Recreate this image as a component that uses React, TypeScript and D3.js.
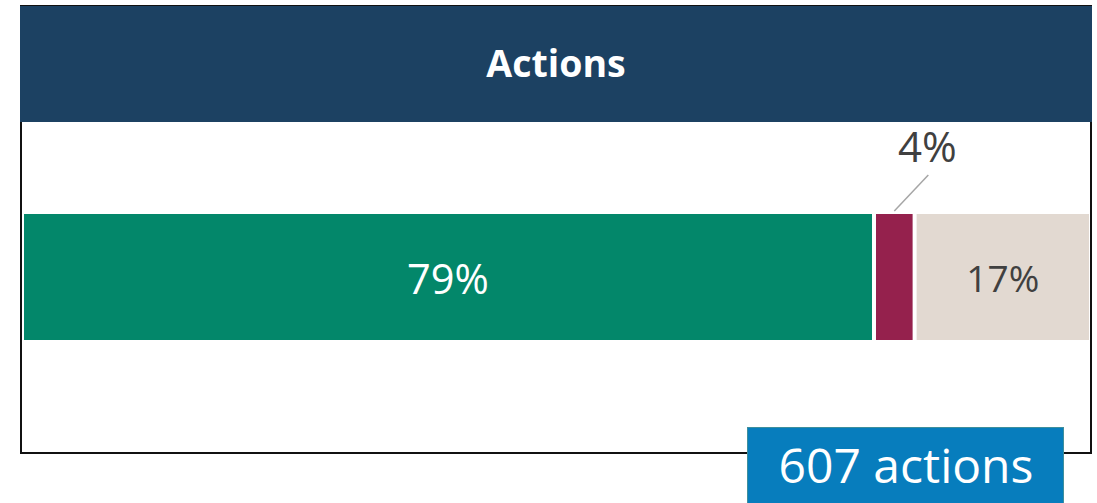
import React from "react";
import * as d3 from "d3";

const categories = ["Category A", "Category B", "Category C"];
const values = [79.7, 3.8, 16.5];
const labels = ["79%", "4%", "17%"];
const colors = ["#03876a", "#95214d", "#e2d9d1"];
const labelColors = ["#ffffff", "#404040", "#404040"];
const title = "Actions";
const totalLabel = "607 actions";

const W = 1097;
const H = 503;
const FONT = "'Open Sans', 'Noto Sans', sans-serif";

export default function App() {
  const x = d3.scaleLinear().domain([0, 100]).range([24, 1093]);
  const y = d3.scaleBand().domain(["row"]).range([214, 340]).padding(0);
  const gap = 4;
  let acc = 0;
  const segs = values.map((v, i) => {
    const s = acc;
    acc += v;
    return { cat: categories[i], start: s, end: acc, i };
  });
  const by = y("row") as number;
  const bh = y.bandwidth();

  return (
    <svg width={W} height={H} style={{ position: "absolute", left: 0, top: 0 }} fontFamily={FONT}>
      {/* frame */}
      <rect x={21} y={6} width={1070} height={447} fill="#fff" stroke="#111" strokeWidth={2} />
      {/* header */}
      <rect x={20} y={6} width={1072} height={116} fill="#1c4162" />
      <text x={556} y={77} textAnchor="middle" fill="#fff" fontSize={37.5} fontWeight={700}>
        {title}
      </text>
      {/* bars */}
      {segs.map((s) => {
        const x0 = x(s.start);
        const w = x(s.end) - x0 - gap;
        const cx = x0 + w / 2;
        const small = s.end - s.start < 8;
        return (
          <g key={s.cat}>
            <rect x={x0} y={by} width={w} height={bh} fill={colors[s.i]} />
            {small ? (
              <g>
                <line x1={cx} y1={by - 3} x2={cx + 34} y2={by - 39} stroke="#a6a6a6" strokeWidth={1.5} />
                <text x={cx + 33} y={162} textAnchor="middle" fill={labelColors[s.i]} fontSize={42}>
                  {labels[s.i]}
                </text>
              </g>
            ) : (
              <text
                x={cx}
                y={s.i === 0 ? 294 : 292}
                textAnchor="middle"
                fill={labelColors[s.i]}
                fontSize={s.i === 0 ? 41.5 : 37}
              >
                {labels[s.i]}
              </text>
            )}
          </g>
        );
      })}
      {/* total box */}
      <rect x={747.5} y={427.5} width={316} height={80} fill="#077dbd" stroke="#3f8f9c" strokeWidth={1} />
      <text x={906} y={483} textAnchor="middle" fill="#fff" fontSize={48}>
        {totalLabel}
      </text>
    </svg>
  );
}
